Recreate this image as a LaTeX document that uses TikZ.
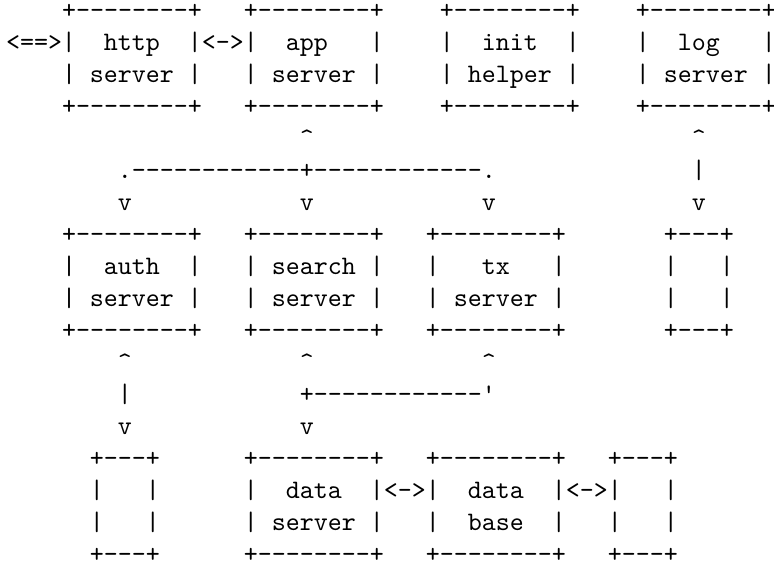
\documentclass[tikz,border=0pt]{standalone}
\font\asciifont="[lmmono10-regular]" at 10pt
\newdimen\cellw \cellw=5.25pt
\newcommand\blk[1]{\kern#1\cellw}
\tikzset{asciirow/.style={anchor=base west, inner sep=0pt, outer sep=0pt, font=\asciifont}}
\begin{document}
\begin{tikzpicture}[x=1pt,y=1pt]
\path[use as bounding box, fill=white] (0,0) rectangle (290.25,-211.875);
\begin{scope}[yshift=0.7pt]
\node[asciirow] (r0)  at (2.25,-7.8)   {\blk{4}+--------+\blk{3}+--------+\blk{4}+--------+\blk{4}+--------+};
\node[asciirow] (r1)  at (2.25,-19.8)  {<==>|\blk{2}http\blk{2}|<->|\blk{2}app\blk{3}|\blk{4}|\blk{2}init\blk{2}|\blk{4}|\blk{2}log\blk{3}|};
\node[asciirow] (r2)  at (2.25,-31.8)  {\blk{4}|\blk{1}server\blk{1}|\blk{3}|\blk{1}server\blk{1}|\blk{4}|\blk{1}helper\blk{1}|\blk{4}|\blk{1}server\blk{1}|};
\node[asciirow] (r3)  at (2.25,-43.8)  {\blk{4}+--------+\blk{3}+--------+\blk{4}+--------+\blk{4}+--------+};
\node[asciirow] (r4)  at (2.25,-55.8)  {\blk{21}\string^\blk{27}\string^};
\node[asciirow] (r5)  at (2.25,-67.8)  {\blk{8}.------------+------------.\blk{14}|};
\node[asciirow] (r6)  at (2.25,-79.8)  {\blk{8}v\blk{12}v\blk{12}v\blk{14}v};
\node[asciirow] (r7)  at (2.25,-91.8)  {\blk{4}+--------+\blk{3}+--------+\blk{3}+--------+\blk{7}+---+};
\node[asciirow] (r8)  at (2.25,-103.8) {\blk{4}|\blk{2}auth\blk{2}|\blk{3}|\blk{1}search\blk{1}|\blk{3}|\blk{3}tx\blk{3}|\blk{7}|\blk{3}|};
\node[asciirow] (r9)  at (2.25,-115.8) {\blk{4}|\blk{1}server\blk{1}|\blk{3}|\blk{1}server\blk{1}|\blk{3}|\blk{1}server\blk{1}|\blk{7}|\blk{3}|};
\node[asciirow] (r10) at (2.25,-127.8) {\blk{4}+--------+\blk{3}+--------+\blk{3}+--------+\blk{7}+---+};
\node[asciirow] (r11) at (2.25,-139.8) {\blk{8}\string^\blk{12}\string^\blk{12}\string^};
\node[asciirow] (r12) at (2.25,-151.8) {\blk{8}|\blk{12}+------------'};
\node[asciirow] (r13) at (2.25,-163.8) {\blk{8}v\blk{12}v};
\node[asciirow] (r14) at (2.25,-175.8) {\blk{6}+---+\blk{6}+--------+\blk{3}+--------+\blk{3}+---+};
\node[asciirow] (r15) at (2.25,-187.8) {\blk{6}|\blk{3}|\blk{6}|\blk{2}data\blk{2}|<->|\blk{2}data\blk{2}|<->|\blk{3}|};
\node[asciirow] (r16) at (2.25,-199.8) {\blk{6}|\blk{3}|\blk{6}|\blk{1}server\blk{1}|\blk{3}|\blk{2}base\blk{2}|\blk{3}|\blk{3}|};
\node[asciirow] (r17) at (2.25,-211.8) {\blk{6}+---+\blk{6}+--------+\blk{3}+--------+\blk{3}+---+};
\end{scope}
\end{tikzpicture}
\end{document}
